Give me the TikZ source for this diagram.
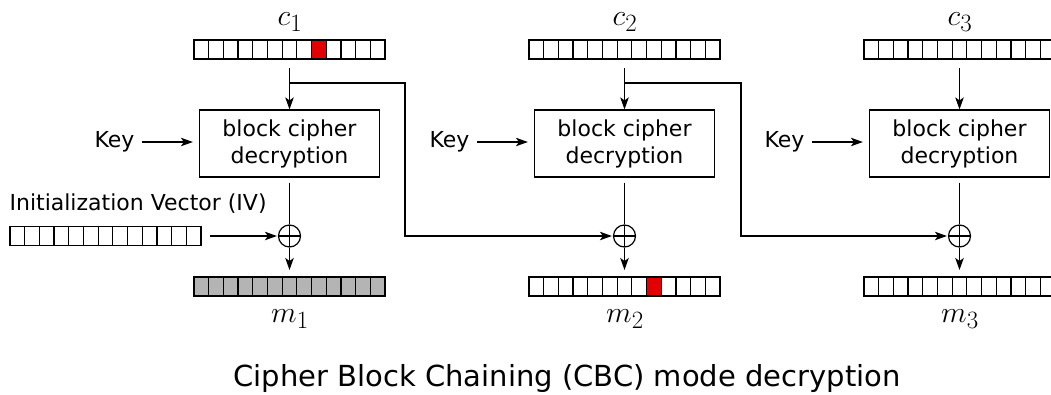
\documentclass[tikz,border=0pt]{standalone}
\usepackage{graphicx}
\usepackage{fontspec}
\setmainfont{DejaVu Sans}
\usetikzlibrary{arrows.meta}
\definecolor{cellred}{RGB}{226,0,0}
\definecolor{cellgrey}{RGB}{180,180,180}

\tikzset{
  cipherbox/.style={draw, minimum width=180pt, minimum height=67pt,
    align=center, inner sep=0pt, font=\fontsize{22}{27}\selectfont},
  xorop/.style={circle, draw, minimum size=22pt, inner sep=0pt,
    path picture={\draw (path picture bounding box.north) -- (path picture bounding box.south)
      (path picture bounding box.west) -- (path picture bounding box.east);}},
  plain/.style={font=\fontsize{22}{26}\selectfont, inner sep=0pt},
  blocklabel/.style={font=\Huge, inner sep=0pt}
}
\newcommand{\blockname}[1]{\scalebox{1.2}{$#1$}}

% row of 13 cells: name, x, y, fill, index of red cell
\newcommand{\cellrow}[5]{%
  \node[minimum width=191pt, minimum height=19pt, inner sep=0pt, outer sep=0pt] (#1) at (#2,#3) {};
  \foreach \k in {0,...,12}{%
    \ifnum\k=#5\relax\def\cellfill{cellred}\else\def\cellfill{#4}\fi
    \draw[fill=\cellfill] ([xshift=\k*14.69pt]#1.north west) rectangle ++(14.69,19);
  }%
}

\begin{document}
\begin{tikzpicture}[x=1pt, y=-1pt, >={Stealth[length=12pt, width=8.5pt, inset=3pt]}, line width=1.2pt]
\clip (0,0) rectangle (1051,394);

% ciphertext blocks
\node[blocklabel] (lc1) at (290,22) {\blockname{c_1}};
\node[blocklabel] (lc2) at (625,22) {\blockname{c_2}};
\node[blocklabel] (lc3) at (960,22) {\blockname{c_3}};
\cellrow{c1}{289.5}{49.5}{white}{8}
\cellrow{c2}{624.5}{49.5}{white}{-1}
\cellrow{c3}{959.5}{49.5}{white}{-1}

% decryption boxes
\node[cipherbox] (d1) at (289.5,143.5) {block cipher\\decryption};
\node[cipherbox] (d2) at (624.5,143.5) {block cipher\\decryption};
\node[cipherbox] (d3) at (959.5,143.5) {block cipher\\decryption};

\node[plain, anchor=east] (k1) at (135,142) {Key};
\node[plain, anchor=east] (k2) at (470,142) {Key};
\node[plain, anchor=east] (k3) at (805,142) {Key};
\draw[->, shorten <=7pt, shorten >=6pt] (k1.east) -- (k1.east -| d1.west);
\draw[->, shorten <=7pt, shorten >=6pt] (k2.east) -- (k2.east -| d2.west);
\draw[->, shorten <=7pt, shorten >=6pt] (k3.east) -- (k3.east -| d3.west);

\draw[->, shorten <=9pt] (c1) -- (d1);
\draw[->, shorten <=9pt] (c2) -- (d2);
\draw[->, shorten <=9pt] (c3) -- (d3);

% xor and plaintext
\node[xorop] (x1) at (289.5,236) {};
\node[xorop] (x2) at (624.5,236) {};
\node[xorop] (x3) at (959.5,236) {};
\draw[shorten <=5pt] (d1) -- (x1);
\draw[shorten <=5pt] (d2) -- (x2);
\draw[shorten <=5pt] (d3) -- (x3);

\node[plain, anchor=west] (liv) at (9,204) {Initialization Vector (IV)};
\cellrow{iv}{105.5}{236}{white}{-1}
\draw[->, shorten <=9pt, shorten >=1pt] (iv) -- (x1);

\cellrow{m1}{289.5}{286.5}{cellgrey}{-1}
\cellrow{m2}{624.5}{286.5}{white}{8}
\cellrow{m3}{959.5}{286.5}{white}{-1}
\draw[->, shorten >=7pt] (x1) -- (m1);
\draw[->, shorten >=7pt] (x2) -- (m2);
\draw[->, shorten >=7pt] (x3) -- (m3);
\node[blocklabel] (lm1) at (290,319) {\blockname{m_1}};
\node[blocklabel] (lm2) at (625,319) {\blockname{m_2}};
\node[blocklabel] (lm3) at (960,319) {\blockname{m_3}};

% chaining
\coordinate (s1) at (289.5,83);
\coordinate (b1) at (405,83);
\coordinate (s2) at (624.5,83);
\coordinate (b2) at (741,83);
\draw[->, shorten >=1pt] (s1) -- (b1) |- (x2);
\draw[->, shorten >=1pt] (s2) -- (b2) |- (x3);

\node[font=\fontsize{29}{32}\selectfont, inner sep=0pt] (title) at (567,378) {Cipher Block Chaining (CBC) mode decryption};
\end{tikzpicture}
\end{document}
